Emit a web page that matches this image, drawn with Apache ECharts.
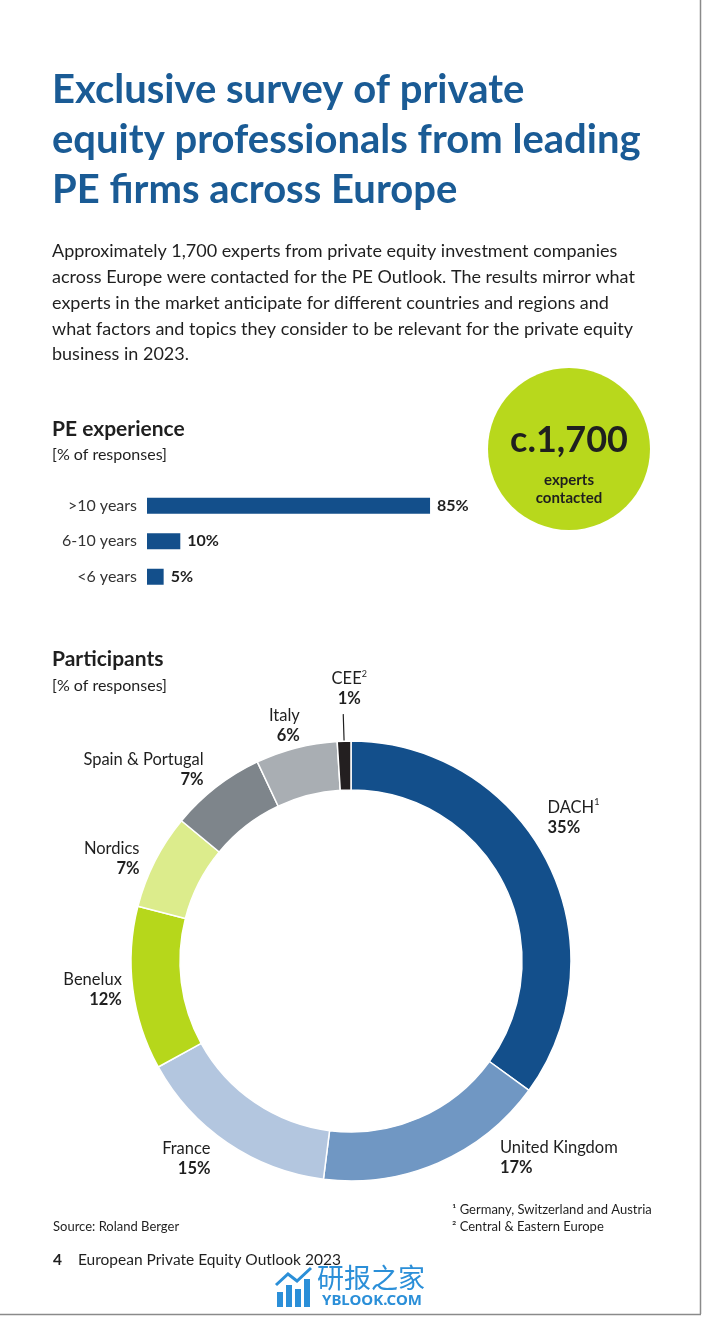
<!DOCTYPE html>
<html>
<head>
<meta charset="utf-8">
<script src="https://cdn.jsdelivr.net/npm/echarts@6/dist/echarts.min.js"></script>
<style>
html,body{margin:0;padding:0;background:#fff;}
#chart{width:702px;height:1317px;}
</style>
</head>
<body>
<div id="chart"></div>
<script>
// ---------- data ----------
const titleLines = ['Exclusive survey of private', 'equity professionals from leading', 'PE firms across Europe'];
const introLines = [
  'Approximately 1,700 experts from private equity investment companies',
  'across Europe were contacted for the PE Outlook. The results mirror what',
  'experts in the market anticipate for different countries and regions and',
  'what factors and topics they consider to be relevant for the private equity',
  'business in 2023.'
];
const experienceCategories = ['>10 years', '6-10 years', '<6 years'];
const experienceValues = [85, 10, 5];
const participantCategories = ['DACH', 'United Kingdom', 'France', 'Benelux', 'Nordics', 'Spain & Portugal', 'Italy', 'CEE'];
const participantValues = [35, 17, 15, 12, 7, 7, 6, 1];
const participantFootnoteMarks = ['1', '', '', '', '', '', '', '2'];
const footnotes = ['\u00B9 Germany, Switzerland and Austria', '\u00B2 Central & Eastern Europe'];

// ---------- styles ----------
const FONT = 'Lato, "Noto Sans", sans-serif';
const BLUE = '#134f8b';
const TEXT = '#1f1f1f';
const participantColors = ['#134f8b', '#7097c3', '#b3c6df', '#b6d71b', '#dcec8c', '#7e858b', '#a9aeb3', '#231f20'];
const labelNudge = [[-17, -37], [51, -18], [-4, 4], [8, -1], [2, 4], [1, -6], [12, -9], [11, -5]];

const chart = echarts.init(document.getElementById('chart'), null, {renderer: 'canvas'});

const graphics = [];
titleLines.forEach((t, i) => graphics.push({
  type: 'text', left: 52, top: 70 + i * 50,
  style: {text: t, font: 'bold 40px ' + FONT, fill: '#1a5b95'}
}));
introLines.forEach((t, i) => graphics.push({
  type: 'text', left: 52, top: 242.5 + i * 25.75,
  style: {text: t, font: '18px ' + FONT, fill: TEXT}
}));
graphics.push(
  {type: 'text', left: 52, top: 419, style: {text: 'PE experience', font: 'bold 21px ' + FONT, fill: TEXT}},
  {type: 'text', left: 52, top: 447, style: {text: '[% of responses]', font: '16px ' + FONT, fill: TEXT}},
  {type: 'circle', shape: {cx: 569, cy: 449, r: 81}, style: {fill: '#b8d81c'}},
  {type: 'text', x: 569, y: 440, style: {text: 'c.1,700', font: 'bold 36px ' + FONT, fill: TEXT, align: 'center', verticalAlign: 'middle'}},
  {type: 'text', x: 569, y: 480, style: {text: 'experts', font: 'bold 15px ' + FONT, fill: TEXT, align: 'center', verticalAlign: 'middle'}},
  {type: 'text', x: 569, y: 498, style: {text: 'contacted', font: 'bold 15px ' + FONT, fill: TEXT, align: 'center', verticalAlign: 'middle'}},
  {type: 'text', left: 52, top: 649, style: {text: 'Participants', font: 'bold 21px ' + FONT, fill: TEXT}},
  {type: 'text', left: 52, top: 678, style: {text: '[% of responses]', font: '16px ' + FONT, fill: TEXT}},
  {type: 'text', left: 452, top: 1203, style: {text: footnotes[0], font: '13px ' + FONT, fill: TEXT}},
  {type: 'text', left: 452, top: 1220, style: {text: footnotes[1], font: '13px ' + FONT, fill: TEXT}},
  {type: 'text', left: 53, top: 1220, style: {text: 'Source: Roland Berger', font: '13px ' + FONT, fill: TEXT}},
  {type: 'text', left: 53, top: 1252, style: {text: '4', font: 'bold 15.5px ' + FONT, fill: TEXT}},
  {type: 'text', left: 78, top: 1252, style: {text: 'European Private Equity Outlook 2023', font: '15.5px ' + FONT, fill: TEXT}},
  // watermark
  {type: 'rect', shape: {x: 277, y: 1292, width: 6, height: 15}, style: {fill: '#2b8fd8'}},
  {type: 'rect', shape: {x: 286, y: 1285, width: 6, height: 22}, style: {fill: '#2b8fd8'}},
  {type: 'rect', shape: {x: 295, y: 1289, width: 6, height: 18}, style: {fill: '#2b8fd8'}},
  {type: 'rect', shape: {x: 304, y: 1279, width: 6, height: 28}, style: {fill: '#2b8fd8'}},
  {type: 'polyline', shape: {points: [[276, 1285], [288, 1274], [297, 1281], [311, 1268]]}, style: {stroke: '#2b8fd8', lineWidth: 3, fill: null}},
  {type: 'text', left: 317, top: 1264, style: {text: '研报之家', font: '27px "Noto Sans CJK SC"', fill: '#2b8fd8'}},
  {type: 'text', left: 322, top: 1293, style: {text: 'YBLOOK.COM', font: 'bold 15px "Noto Sans", sans-serif', fill: '#2b8fd8'}},
  // page frame
  {type: 'line', shape: {x1: 700.5, y1: 0, x2: 700.5, y2: 1314}, style: {stroke: '#8a8a8a', lineWidth: 1.5}},
  {type: 'line', shape: {x1: 0, y1: 1314.5, x2: 701, y2: 1314.5}, style: {stroke: '#8a8a8a', lineWidth: 1.5}}
);

const pieData = participantCategories.map((name, i) => {
  const item = {name: name, value: participantValues[i], itemStyle: {color: participantColors[i]}};
  if (i === participantCategories.length - 1) {
    item.labelLine = {show: true, length: 27, length2: 0, lineStyle: {color: TEXT, width: 1.2}};
  }
  return item;
});

chart.setOption({
  backgroundColor: '#ffffff',
  animation: false,
  textStyle: {fontFamily: FONT},
  graphic: graphics,
  grid: {left: 147, top: 488, width: 333, height: 106.5, containLabel: false},
  xAxis: {type: 'value', min: 0, max: 100, show: false},
  yAxis: {
    type: 'category', data: experienceCategories, inverse: true,
    axisLine: {show: false}, axisTick: {show: false}, splitLine: {show: false},
    axisLabel: {fontSize: 16, color: '#333', margin: 10, fontFamily: FONT}
  },
  series: [
    {
      type: 'bar', data: experienceValues, barWidth: 16,
      itemStyle: {color: BLUE},
      label: {show: true, position: 'right', distance: 7, formatter: '{c}%', fontWeight: 'bold', fontSize: 16, color: TEXT, fontFamily: FONT}
    },
    {
      type: 'pie', center: [351, 961], radius: [171, 220], startAngle: 90, clockwise: true,
      avoidLabelOverlap: false,
      itemStyle: {borderColor: '#ffffff', borderWidth: 1.5},
      emphasis: {disabled: true},
      label: {
        show: true, position: 'outside', distanceToLabelLine: 5,
        formatter: p => {
          const mark = participantFootnoteMarks[p.dataIndex];
          return '{n|' + p.name + '}' + (mark ? '{s|' + mark + '}' : '') + '\n{v|' + p.value + '%}';
        },
        rich: {
          n: {fontSize: 16.5, color: TEXT, fontFamily: FONT, lineHeight: 20},
          s: {fontSize: 9, color: TEXT, fontFamily: FONT, verticalAlign: 'top', lineHeight: 20},
          v: {fontSize: 16.5, fontWeight: 'bold', color: TEXT, fontFamily: FONT, lineHeight: 20}
        }
      },
      labelLine: {show: false, length: 14, length2: 0},
      labelLayout: p => {
        const n = labelNudge[p.dataIndex];
        const o = {dx: n[0], dy: n[1]};
        if (p.dataIndex === participantCategories.length - 1) { o.align = 'center'; o.verticalAlign = 'bottom'; }
        return o;
      },
      data: pieData
    }
  ]
});
</script>
</body>
</html>
